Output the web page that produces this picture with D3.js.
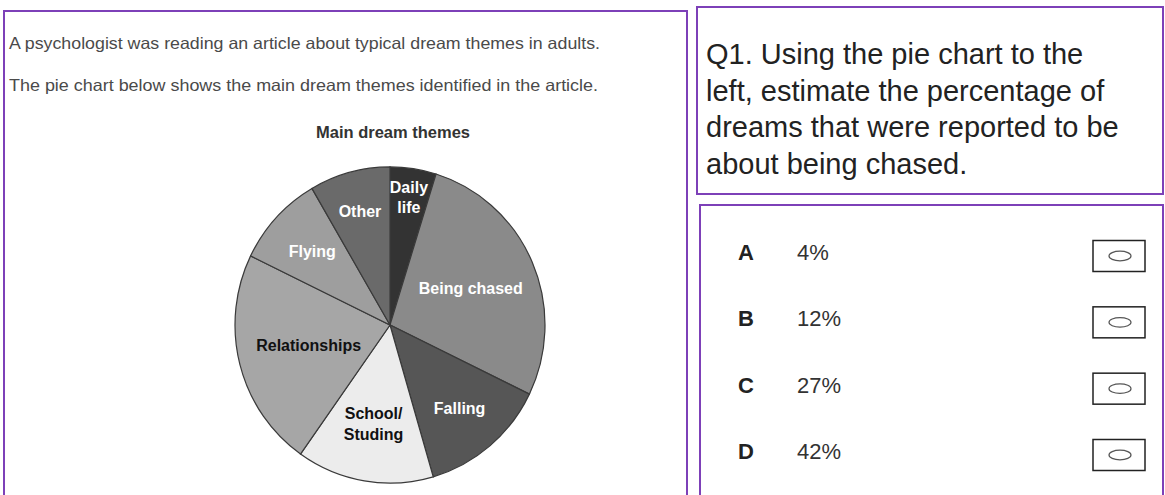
<!DOCTYPE html>
<html>
<head>
<meta charset="utf-8">
<script src="https://cdn.jsdelivr.net/npm/d3@7"></script>
<style>
  body { margin: 0; background: #fff; }
  svg { display: block; font-family: "Liberation Sans", Arial, sans-serif; }
</style>
</head>
<body>
<svg id="main" width="1165" height="495"></svg>
<script>
// pie data (percent of dreams)
var themes = ['Daily\nlife', 'Being chased', 'Falling', 'School/\nStuding', 'Relationships', 'Flying', 'Other'];
var shares = [4.8, 27.4, 13.3, 14.3, 22.4, 9.4, 8.4];
var shades = ['#333333', '#8a8a8a', '#565656', '#ececec', '#a6a6a6', '#9e9e9e', '#6a6a6a'];
var labelInk = ['#fff', '#fff', '#fff', '#111', '#111', '#fff', '#fff'];
var labelRadius = [126, 88, 108, 99, 84, 106, 115];

var intro = ['A psychologist was reading an article about typical dream themes in adults.',
             'The pie chart below shows the main dream themes identified in the article.'];
var question = ['Q1. Using the pie chart to the', 'left, estimate the percentage of',
                'dreams that were reported to be', 'about being chased.'];
var letters = ['A', 'B', 'C', 'D'];
var answers = ['4%', '12%', '27%', '42%'];

var svg = d3.select('#main');
var purple = '#7d40b8';

// panels
svg.append('rect').attr('x', 4).attr('y', 11).attr('width', 683).attr('height', 520)
   .style('fill', 'none').style('stroke', purple).style('stroke-width', 2);
svg.append('rect').attr('x', 697).attr('y', 7).attr('width', 466).attr('height', 187)
   .style('fill', 'none').style('stroke', purple).style('stroke-width', 2);
svg.append('rect').attr('x', 700).attr('y', 205).attr('width', 463).attr('height', 320)
   .style('fill', 'none').style('stroke', purple).style('stroke-width', 2);

// intro text
svg.selectAll('text.intro').data(intro).enter().append('text')
   .attr('class', 'intro')
   .attr('x', 9)
   .attr('y', function(d, i) { return 49 + i * 42; })
   .attr('textLength', function(d, i) { return i == 0 ? 591 : 589; })
   .attr('lengthAdjust', 'spacingAndGlyphs')
   .style('font-size', '16.5px')
   .style('fill', '#4a4a4a')
   .text(function(d) { return d; });

// pie
var cx = 390, cy = 325, R = 155;
var g = svg.append('g').attr('transform', 'translate(' + cx + ',' + cy + ') scale(1,1.02)');

svg.append('text').attr('x', 393).attr('y', 138)
   .style('text-anchor', 'middle').style('font-size', '16.5px').style('font-weight', 'bold')
   .style('fill', '#333').text('Main dream themes');

var pie = d3.pie().sort(null).value(function(d) { return d; });
var arcs = pie(shares);
var arc = d3.arc().innerRadius(0).outerRadius(R);

g.selectAll('path').data(arcs).enter().append('path')
 .attr('d', arc)
 .style('fill', function(d, i) { return shades[i]; })
 .style('stroke', '#3a3a3a')
 .style('stroke-width', 1.2);

g.selectAll('text.lab').data(arcs).enter().append('text')
 .attr('class', 'lab')
 .attr('transform', function(d, i) {
   var c = d3.arc().innerRadius(labelRadius[i]).outerRadius(labelRadius[i]).centroid(d);
   return 'translate(' + c[0] + ',' + c[1] + ')';
 })
 .style('text-anchor', 'middle')
 .style('font-size', '16px')
 .style('font-weight', 'bold')
 .style('fill', function(d, i) { return labelInk[i]; })
 .each(function(d, i) {
   var lines = themes[i].split('\n');
   var t = d3.select(this);
   lines.forEach(function(l, k) {
     t.append('tspan').attr('x', 0)
      .attr('dy', k == 0 ? ((1 - lines.length) * 10 + 5) : 20)
      .text(l);
   });
 });

// question
svg.selectAll('text.q').data(question).enter().append('text')
   .attr('class', 'q')
   .attr('x', 706)
   .attr('y', function(d, i) { return 64 + i * 36.5; })
   .style('font-size', '29px')
   .style('fill', '#222')
   .text(function(d) { return d; });

// options
var oy = d3.scalePoint().domain(letters).range([252, 451]);
var opt = svg.selectAll('g.opt').data(letters).enter().append('g')
   .attr('class', 'opt')
   .attr('transform', function(d) { return 'translate(0,' + oy(d) + ')'; });

opt.append('text').attr('x', 738).attr('y', 8)
   .style('font-size', '22px').style('font-weight', 'bold').style('fill', '#222')
   .text(function(d) { return d; });
opt.append('text').attr('x', 797).attr('y', 8)
   .style('font-size', '22px').style('fill', '#333')
   .text(function(d, i) { return answers[i]; });
opt.append('rect').attr('x', 1093).attr('y', -11.5).attr('width', 52).attr('height', 31)
   .style('fill', '#fff').style('stroke', '#222').style('stroke-width', 1.5);
opt.append('ellipse').attr('cx', 1120).attr('cy', 4).attr('rx', 11).attr('ry', 4.8)
   .style('fill', 'none').style('stroke', '#555').style('stroke-width', 1.2);
</script>
</body>
</html>
